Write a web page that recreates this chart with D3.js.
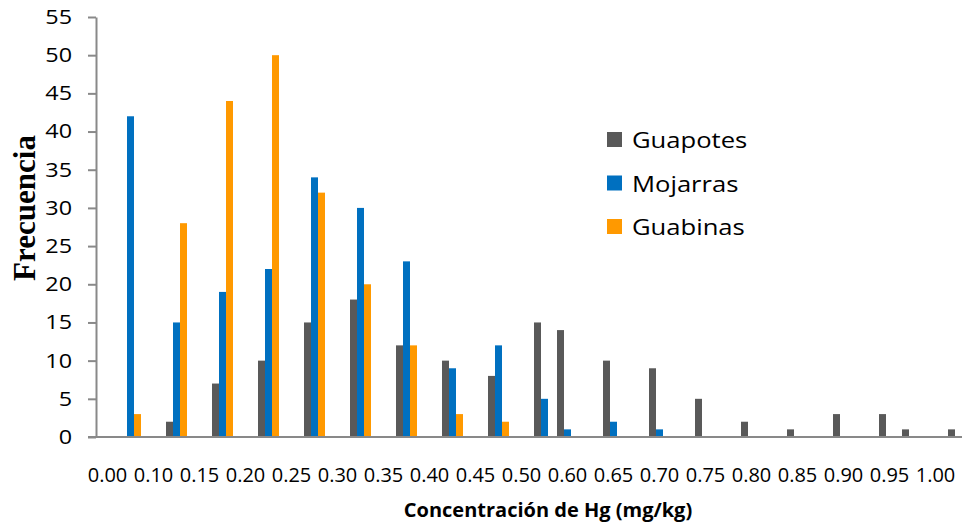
<!DOCTYPE html>
<meta charset="utf-8">
<style>

body {
  margin: 0;
  background: #fff;
}

text {
  font-family: "Open Sans", sans-serif;
  fill: #000;
}

.axis path,
.axis line {
  stroke: #898989;
  stroke-width: 2px;
}

.ylabel {
  font-family: "Liberation Serif", "Times New Roman", serif;
  font-weight: bold;
}

</style>
<svg width="962" height="527"></svg>
<script src="https://d3js.org/d3.v7.min.js"></script>
<script>

// every second slot carries a label, the bars sit in the slots as in the original sheet
var tickLabels = ["0.00", "0.10", "0.15", "0.20", "0.25", "0.30", "0.35", "0.40", "0.45", "0.50",
                  "0.60", "0.65", "0.70", "0.75", "0.80", "0.85", "0.90", "0.95", "1.00"];

var seriesNames = ["Guapotes", "Mojarras", "Guabinas"];

var guapotes = [0, 0, 0, 2, 0, 7, 0, 10, 0, 15, 0, 18, 0, 12, 0, 10, 0, 8, 0, 15,
                14, 0, 10, 0, 9, 0, 5, 0, 2, 0, 1, 0, 3, 0, 3, 1, 0, 1];
var mojarras = [0, 42, 0, 15, 0, 19, 0, 22, 0, 34, 0, 30, 0, 23, 0, 9, 0, 12, 0, 5,
                1, 0, 2, 0, 1, 0, 0, 0, 0, 0, 0, 0, 0, 0, 0, 0, 0, 0];
var guabinas = [0, 3, 0, 28, 0, 44, 0, 50, 0, 32, 0, 20, 0, 12, 0, 3, 0, 2, 0, 0,
                0, 0, 0, 0, 0, 0, 0, 0, 0, 0, 0, 0, 0, 0, 0, 0, 0, 0];

var yTicks = [0, 5, 10, 15, 20, 25, 30, 35, 40, 45, 50, 55];

var colors = ["#595959", "#0070c0", "#ff9900"];

var slots = d3.range(guapotes.length);
var values = [guapotes, mojarras, guabinas];

var svg = d3.select("svg"),
    margin = {top: 17, left: 96},
    slotWidth = 23,
    plotHeight = 420;

var x0 = d3.scaleBand()
    .domain(slots)
    .range([margin.left, margin.left + slotWidth * slots.length]);

var x1 = d3.scaleBand()
    .domain(seriesNames)
    .range([1, slotWidth - 1]);

var y = d3.scaleLinear()
    .domain([0, 55])
    .range([margin.top + plotHeight, margin.top]);

var color = d3.scaleOrdinal()
    .domain(seriesNames)
    .range(colors);

// bars
var groups = svg.append("g")
  .selectAll("g")
  .data(seriesNames)
  .enter().append("g")
    .attr("fill", function(d) { return color(d); });

groups.selectAll("rect")
  .data(function(d, i) {
    return slots.map(function(s) { return {series: d, slot: s, value: values[i][s]}; })
      .filter(function(e) { return e.value > 0; });
  })
  .enter().append("rect")
    .attr("x", function(d) { return x0(d.slot) + x1(d.series); })
    .attr("width", x1.bandwidth())
    .attr("y", function(d) { return y(d.value); })
    .attr("height", function(d) { return y(0) - y(d.value); });

// y axis
var yAxis = svg.append("g")
    .attr("class", "axis")
    .attr("transform", "translate(" + margin.left + ",0)")
    .call(d3.axisLeft(y).tickValues(yTicks).tickSize(8).tickPadding(16).tickSizeOuter(0));

// the source labels are drawn a little wide
yAxis.selectAll("text")
    .attr("x", -24 / 1.17)
    .attr("transform", "scale(1.17,1)")
    .style("font-size", "20px");

// x axis: labels on even slots only
var xAxis = svg.append("g")
    .attr("class", "axis")
    .attr("transform", "translate(0," + y(0) + ")")
    .call(d3.axisBottom(x0)
      .tickValues(slots.filter(function(s) { return s % 2 === 0; }))
      .tickFormat(function(s) { return tickLabels[s / 2]; })
      .tickSize(0)
      .tickSizeOuter(0));

xAxis.selectAll("text")
    .attr("y", 31)
    .style("font-size", "20px");

xAxis.select(".domain")
    .attr("d", "M" + (margin.left - 8) + ",0H" + x0.range()[1]);

// axis titles
svg.append("text")
    .attr("x", 548)
    .attr("y", 517)
    .attr("text-anchor", "middle")
    .style("font-size", "20px")
    .style("font-weight", "bold")
    .text("Concentración de Hg (mg/kg)");

svg.append("text")
    .attr("class", "ylabel")
    .attr("transform", "translate(35,208) rotate(-90)")
    .attr("text-anchor", "middle")
    .style("font-size", "31px")
    .text("Frecuencia");

// legend
var legend = svg.append("g")
  .selectAll("g")
  .data(seriesNames)
  .enter().append("g")
    .attr("transform", function(d, i) { return "translate(607," + (148 + i * 43.5) + ")"; });

legend.append("rect")
    .attr("y", -16)
    .attr("width", 15)
    .attr("height", 15)
    .attr("fill", function(d) { return color(d); });

legend.append("text")
    .attr("transform", "translate(25,0) scale(1.22,1)")
    .style("font-size", "21px")
    .text(function(d) { return d; });

</script>
